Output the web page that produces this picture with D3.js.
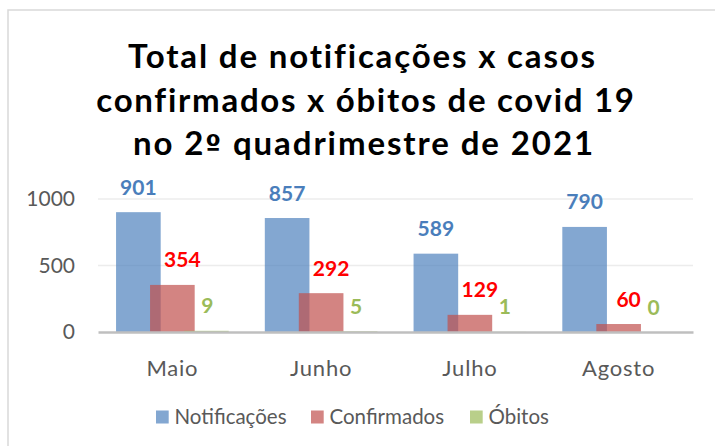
<!DOCTYPE html>
<html><head><meta charset="utf-8">
<script src="https://cdn.jsdelivr.net/npm/d3@7"></script>
<style>body{margin:0;background:#fff}svg{display:block}</style>
</head><body>
<script>
const titleLines = ["Total de notificações x casos","confirmados x óbitos de covid 19","no 2º quadrimestre de 2021"];
const months = ["Maio","Junho","Julho","Agosto"];
const notificacoes = [901,857,589,790];
const confirmados = [354,292,129,60];
const obitos = [9,5,1,0];
const seriesNames = ["Notificações","Confirmados","Óbitos"];
const yTicks = [0,500,1000];

const W=715,H=446;
const svg=d3.select("body").append("svg").attr("width",W).attr("height",H);
const FONT="Lato, 'Open Sans', sans-serif";
svg.append("rect").attr("x",8).attr("y",10).attr("width",W-7).attr("height",H).attr("fill","#fff").attr("stroke","#d9d9d9").attr("stroke-width",1.5);

// title
const tW=[469,539,462], tX=[362.5,366,364];
titleLines.forEach((t,i)=>{
  const el=svg.append("text").attr("x",tX[i]).attr("y",68+i*43.5).attr("text-anchor","middle")
   .attr("font-family",FONT).attr("font-weight","bold").attr("font-size",33).attr("fill","#000");
  t.split(/(º)/).forEach(part=>{
    if(!part) return;
    const ts=el.append("tspan").text(part);
    if(part==="º") ts.attr("font-family","'DejaVu Sans', sans-serif").attr("font-size",28);
  });
  const w=el.node().getComputedTextLength();
  el.attr("letter-spacing",((tW[i]-w)/t.length)+"px");
});

const x=d3.scaleBand().domain(months).range([98,693]).padding(0);
const y=d3.scaleLinear().domain([0,1000]).range([332,199]);
const bw=x.bandwidth();
const colors=["#4F81BD","#C0504D","#9BBB59"];
const labelColors=["#4A7EBB","#FF0000","#9BBB59"];
const labelDx=[0,10,1];
const series=[notificacoes,confirmados,obitos];

// gridlines
svg.append("g").selectAll("line").data(yTicks.filter(d=>d>0)).join("line")
 .attr("x1",98).attr("x2",693).attr("y1",d=>y(d)).attr("y2",d=>y(d))
 .attr("stroke","#ececec").attr("stroke-width",1.5);

// y tick labels
const yAxis=svg.append("g").attr("transform","translate(80,0)")
 .call(d3.axisLeft(y).tickValues(yTicks).tickFormat(d3.format("d")).tickSize(0).tickPadding(5));
yAxis.select(".domain").remove();
yAxis.selectAll("text").attr("font-family",FONT).attr("font-size",21).attr("fill","#595959");

// bars
series.forEach((vals,si)=>{
  svg.append("g").selectAll("rect").data(vals).join("rect")
   .attr("x",(d,i)=>x(months[i])+0.1214*bw+si*0.2286*bw)
   .attr("width",0.3*bw)
   .attr("y",d=>y(d)).attr("height",d=>y(0)-y(d))
   .attr("fill",colors[si]).attr("fill-opacity",0.7);
});

// x axis
const xAxis=svg.append("g").attr("transform","translate(0,"+y(0)+")")
 .call(d3.axisBottom(x).tickSize(0).tickPadding(28));
xAxis.select(".domain").attr("stroke","#bfbfbf").attr("stroke-width",2.5);
xAxis.selectAll("text").attr("font-family",FONT).attr("font-size",22).attr("fill","#595959").attr("letter-spacing","0.8px");

// labels
series.forEach((vals,si)=>{
  svg.append("g").selectAll("text").data(vals).join("text")
   .attr("x",(d,i)=>x(months[i])+0.1214*bw+si*0.2286*bw+0.15*bw+labelDx[si])
   .attr("y",d=>y(d)-17.5)
   .attr("text-anchor","middle").attr("font-family",FONT).attr("font-weight","bold")
   .attr("font-size",21).attr("fill",labelColors[si]).text(d=>d);
});

// legend
const legX=[156,311,470];
seriesNames.forEach((n,i)=>{
  svg.append("rect").attr("x",legX[i]).attr("y",410.5).attr("width",12.7).attr("height",13)
   .attr("fill",colors[i]).attr("fill-opacity",0.7);
  svg.append("text").attr("x",legX[i]+18.5).attr("y",423.5).attr("font-family",FONT)
   .attr("font-size",20.5).attr("fill","#595959").text(n);
});
</script>
</body></html>
